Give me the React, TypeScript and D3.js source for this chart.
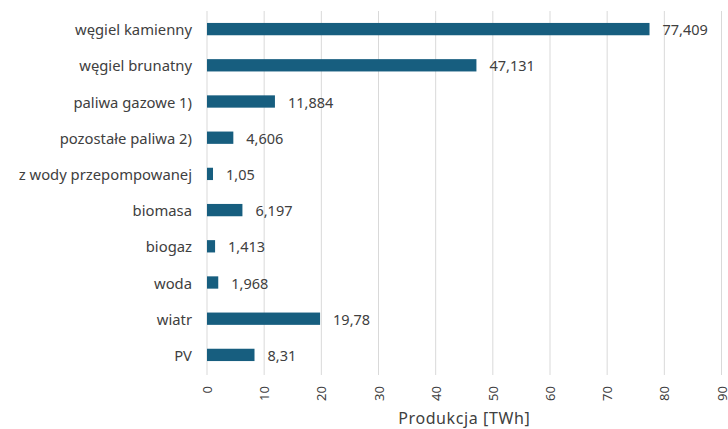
import { useEffect, useRef } from "react";
import * as d3 from "d3";

const categories = [
  "węgiel kamienny",
  "węgiel brunatny",
  "paliwa gazowe 1)",
  "pozostałe paliwa 2)",
  "z wody przepompowanej",
  "biomasa",
  "biogaz",
  "woda",
  "wiatr",
  "PV",
];
const production = [77.409, 47.131, 11.884, 4.606, 1.05, 6.197, 1.413, 1.968, 19.78, 8.31];
const xTicks = [0, 10, 20, 30, 40, 50, 60, 70, 80, 90];
const axisTitle = "Produkcja [TWh]";

const WIDTH = 728;
const HEIGHT = 429;

export default function App() {
  const svgRef = useRef<SVGSVGElement | null>(null);

  useEffect(() => {
    document.body.style.margin = "0";
    if (!svgRef.current) return;

    const margin = { top: 11, right: 6, bottom: 56, left: 207 };
    const chartWidth = WIDTH - margin.left - margin.right;
    const chartHeight = HEIGHT - margin.top - margin.bottom;
    const font = "'Noto Sans', Roboto, sans-serif";
    const textColor = "#404040";

    const svg = d3.select(svgRef.current);
    svg.selectAll("*").remove();

    const g = svg.append("g").attr("transform", `translate(${margin.left}, ${margin.top})`);

    const xScale = d3.scaleLinear().domain([0, 90]).range([0, chartWidth - 0.5]);
    const yScale = d3.scaleBand().domain(categories).range([0, chartHeight]).paddingInner(0.66).paddingOuter(0.33);

    // vertical gridlines
    g.append("g")
      .selectAll("line")
      .data(xTicks)
      .join("line")
      .attr("x1", d => xScale(d))
      .attr("x2", d => xScale(d))
      .attr("y1", 0)
      .attr("y2", chartHeight + 2)
      .attr("stroke", "#d9d9d9")
      .attr("stroke-width", 1);

    // rotated tick labels
    g.append("g")
      .selectAll("text")
      .data(xTicks)
      .join("text")
      .attr("transform", d => `translate(${xScale(d)}, ${chartHeight + 13}) rotate(-90)`)
      .attr("text-anchor", "end")
      .attr("dominant-baseline", "central")
      .attr("fill", textColor)
      .attr("font-family", font)
      .attr("font-size", "13px")
      .text(d => String(d));

    // category labels
    g.append("g")
      .selectAll("text")
      .data(categories)
      .join("text")
      .attr("x", -15)
      .attr("y", d => (yScale(d) ?? 0) + yScale.bandwidth() / 2)
      .attr("text-anchor", "end")
      .attr("dominant-baseline", "central")
      .attr("fill", textColor)
      .attr("font-family", font)
      .attr("font-size", "14.8px")
      .text(d => d);

    // bars
    g.append("g")
      .selectAll("rect")
      .data(production)
      .join("rect")
      .attr("x", xScale(0))
      .attr("y", (_, i) => yScale(categories[i]) ?? 0)
      .attr("width", d => xScale(d) - xScale(0))
      .attr("height", yScale.bandwidth())
      .attr("fill", "#175e7f");

    // value labels
    g.append("g")
      .selectAll("text")
      .data(production)
      .join("text")
      .attr("x", d => xScale(d) + 13)
      .attr("y", (_, i) => (yScale(categories[i]) ?? 0) + yScale.bandwidth() / 2)
      .attr("dominant-baseline", "central")
      .attr("fill", textColor)
      .attr("font-family", font)
      .attr("font-size", "14.5px")
      .text(d => String(d).replace(".", ","));

    // axis title
    svg.append("text")
      .attr("x", margin.left + xScale(45))
      .attr("y", 424)
      .attr("text-anchor", "middle")
      .attr("fill", textColor)
      .attr("font-family", font)
      .attr("font-size", "16px")
      .attr("letter-spacing", "0.6px")
      .text(axisTitle);
  }, []);

  return <svg ref={svgRef} width={WIDTH} height={HEIGHT} style={{ display: "block", background: "#fff" }} />;
}
